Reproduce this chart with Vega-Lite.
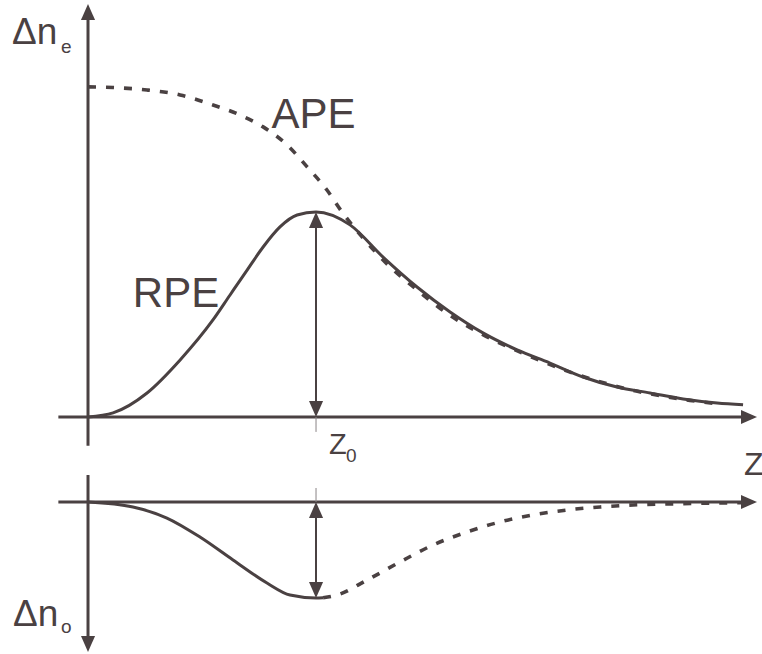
{
  "$schema": "https://vega.github.io/schema/vega-lite/v6.json",
  "padding": 0,
  "spacing": 0,
  "bounds": "flush",
  "background": "white",
  "config": {"view": {"stroke": null}, "font": "Liberation Sans"},
  "datasets": {
    "rpe": [
      {"z": 0.0, "v": 0.0}, {"z": 0.110, "v": 0.020}, {"z": 0.259, "v": 0.117},
      {"z": 0.404, "v": 0.278}, {"z": 0.548, "v": 0.473}, {"z": 0.623, "v": 0.595},
      {"z": 0.697, "v": 0.715}, {"z": 0.768, "v": 0.829}, {"z": 0.842, "v": 0.927},
      {"z": 0.917, "v": 0.985}, {"z": 1.0, "v": 1.0}, {"z": 1.149, "v": 0.937},
      {"z": 1.294, "v": 0.780}, {"z": 1.443, "v": 0.634}, {"z": 1.588, "v": 0.512},
      {"z": 1.732, "v": 0.410}, {"z": 1.882, "v": 0.327}, {"z": 2.026, "v": 0.263},
      {"z": 2.171, "v": 0.195}, {"z": 2.320, "v": 0.146}, {"z": 2.465, "v": 0.117},
      {"z": 2.610, "v": 0.088}, {"z": 2.759, "v": 0.068}, {"z": 2.873, "v": 0.059}
    ],
    "ape": [
      {"z": 0.0, "v": 1.610}, {"z": 0.110, "v": 1.607}, {"z": 0.259, "v": 1.595},
      {"z": 0.404, "v": 1.571}, {"z": 0.548, "v": 1.522}, {"z": 0.667, "v": 1.473},
      {"z": 0.768, "v": 1.415}, {"z": 0.873, "v": 1.327}, {"z": 0.961, "v": 1.220},
      {"z": 1.048, "v": 1.107}, {"z": 1.114, "v": 1.0}, {"z": 1.206, "v": 0.873},
      {"z": 1.325, "v": 0.732}, {"z": 1.443, "v": 0.620}, {"z": 1.575, "v": 0.505},
      {"z": 1.732, "v": 0.402}, {"z": 1.925, "v": 0.302}, {"z": 2.158, "v": 0.202},
      {"z": 2.390, "v": 0.130}, {"z": 2.640, "v": 0.081}, {"z": 2.772, "v": 0.062}
    ],
    "dno": [
      {"z": 0.0, "v": 0.0, "part": "solid"}, {"z": 0.197, "v": -0.052, "part": "solid"},
      {"z": 0.346, "v": -0.167, "part": "solid"}, {"z": 0.491, "v": -0.365, "part": "solid"},
      {"z": 0.636, "v": -0.604, "part": "solid"}, {"z": 0.785, "v": -0.844, "part": "solid"},
      {"z": 0.886, "v": -0.969, "part": "solid"}, {"z": 1.0, "v": -1.0, "part": "solid"},
      {"z": 1.031, "v": -0.998, "part": "solid"},
      {"z": 1.031, "v": -0.998, "part": "dashed"}, {"z": 1.092, "v": -0.969, "part": "dashed"},
      {"z": 1.224, "v": -0.8125, "part": "dashed"}, {"z": 1.368, "v": -0.625, "part": "dashed"},
      {"z": 1.513, "v": -0.448, "part": "dashed"}, {"z": 1.662, "v": -0.3125, "part": "dashed"},
      {"z": 1.807, "v": -0.208, "part": "dashed"}, {"z": 1.952, "v": -0.135, "part": "dashed"},
      {"z": 2.101, "v": -0.083, "part": "dashed"}, {"z": 2.246, "v": -0.052, "part": "dashed"},
      {"z": 2.390, "v": -0.031, "part": "dashed"}, {"z": 2.539, "v": -0.021, "part": "dashed"},
      {"z": 2.759, "v": -0.010, "part": "dashed"}, {"z": 2.890, "v": -0.008, "part": "dashed"}
    ],
    "axesTop": [
      {"z": -0.13, "z2": 2.899, "v": 0, "v2": 0},
      {"z": 0, "z2": 0, "v": -0.141, "v2": 1.976}
    ],
    "axesBottom": [
      {"z": -0.13, "z2": 2.899, "v": 0, "v2": 0},
      {"z": 0, "z2": 0, "v": 0.281, "v2": -1.458}
    ],
    "headsTop": [
      {"z": 1, "v": 1, "dir": "up"}, {"z": 1, "v": 0, "dir": "down"},
      {"z": 0, "v": 2.015, "dir": "up"}, {"z": 2.934, "v": 0, "dir": "right"}
    ],
    "headsBottom": [
      {"z": 1, "v": 0, "dir": "up"}, {"z": 1, "v": -1, "dir": "down"},
      {"z": 0, "v": -1.5625, "dir": "down"}, {"z": 2.934, "v": 0, "dir": "right"}
    ]
  },
  "vconcat": [
    {
      "width": 762,
      "height": 460,
      "encoding": {
        "x": {"field": "z", "type": "quantitative", "scale": {"domain": [-0.386, 2.956], "nice": false, "zero": false}, "axis": null},
        "y": {"field": "v", "type": "quantitative", "scale": {"domain": [-0.21, 2.034], "nice": false, "zero": false}, "axis": null}
      },
      "layer": [
        {
          "data": {"name": "axesTop"},
          "mark": {"type": "rule", "color": "#4a4142", "strokeWidth": 3},
          "encoding": {"x2": {"field": "z2"}, "y2": {"field": "v2"}}
        },
        {
          "data": {"values": [{"z": 1, "v": -0.073, "v2": 0}]},
          "mark": {"type": "rule", "color": "#8a8486", "strokeWidth": 1},
          "encoding": {"y2": {"field": "v2"}}
        },
        {
          "data": {"values": [{"z": 1, "v": 0.04, "v2": 0.96}]},
          "mark": {"type": "rule", "color": "#4a4142", "strokeWidth": 2},
          "encoding": {"y2": {"field": "v2"}}
        },
        {
          "data": {"name": "ape"},
          "mark": {"type": "line", "color": "#4a4142", "strokeWidth": 3.6, "strokeDash": [8, 10], "interpolate": "monotone"},
          "encoding": {"order": {"field": "z", "type": "quantitative"}}
        },
        {
          "data": {"name": "rpe"},
          "mark": {"type": "line", "color": "#4a4142", "strokeWidth": 3, "interpolate": "monotone"},
          "encoding": {"order": {"field": "z", "type": "quantitative"}}
        },
        {
          "data": {"name": "headsTop"},
          "mark": {"type": "point", "filled": true, "size": 1024, "color": "#4a4142", "opacity": 1, "strokeWidth": 0},
          "encoding": {
            "shape": {"field": "dir", "type": "nominal", "legend": null,
              "scale": {"domain": ["up", "down", "right"], "range": ["M0,0L0.44,1L-0.44,1Z", "M0,0L0.44,-1L-0.44,-1Z", "M0,0L-1,0.44L-1,-0.44Z"]}}
          }
        },
        {
          "data": {"values": [{"z": 0.989, "v": 1.410, "label": "APE"}, {"z": 0.386, "v": 0.537, "label": "RPE"}]},
          "mark": {"type": "text", "fontSize": 42, "color": "#4a4142", "align": "center", "baseline": "alphabetic"},
          "encoding": {"text": {"field": "label"}}
        },
        {
          "data": {"values": [{"z": -0.333, "v": 1.820, "label": "Δn"}]},
          "mark": {"type": "text", "fontSize": 37, "color": "#4a4142", "align": "left", "baseline": "alphabetic"},
          "encoding": {"text": {"field": "label"}}
        },
        {
          "data": {"values": [{"z": -0.118, "v": 1.776, "label": "e"}, {"z": 1.132, "v": -0.220, "label": "0"}]},
          "mark": {"type": "text", "fontSize": 19, "color": "#4a4142", "align": "left", "baseline": "alphabetic"},
          "encoding": {"text": {"field": "label"}}
        },
        {
          "data": {"values": [{"z": 1.057, "v": -0.180, "label": "Z"}]},
          "mark": {"type": "text", "fontSize": 29, "color": "#4a4142", "align": "left", "baseline": "alphabetic"},
          "encoding": {"text": {"field": "label"}}
        }
      ]
    },
    {
      "width": 762,
      "height": 194,
      "encoding": {
        "x": {"field": "z", "type": "quantitative", "scale": {"domain": [-0.386, 2.956], "nice": false, "zero": false}, "axis": null},
        "y": {"field": "v", "type": "quantitative", "scale": {"domain": [-1.583, 0.4375], "nice": false, "zero": false}, "axis": null}
      },
      "layer": [
        {
          "data": {"name": "axesBottom"},
          "mark": {"type": "rule", "color": "#4a4142", "strokeWidth": 3},
          "encoding": {"x2": {"field": "z2"}, "y2": {"field": "v2"}}
        },
        {
          "data": {"values": [{"z": 1, "v": 0.146, "v2": 0}]},
          "mark": {"type": "rule", "color": "#8a8486", "strokeWidth": 1},
          "encoding": {"y2": {"field": "v2"}}
        },
        {
          "data": {"values": [{"z": 1, "v": -0.08, "v2": -0.92}]},
          "mark": {"type": "rule", "color": "#4a4142", "strokeWidth": 2},
          "encoding": {"y2": {"field": "v2"}}
        },
        {
          "data": {"name": "dno"},
          "transform": [{"filter": "datum.part === 'solid'"}],
          "mark": {"type": "line", "color": "#4a4142", "strokeWidth": 3, "interpolate": "monotone"},
          "encoding": {"order": {"field": "z", "type": "quantitative"}}
        },
        {
          "data": {"name": "dno"},
          "transform": [{"filter": "datum.part === 'dashed'"}],
          "mark": {"type": "line", "color": "#4a4142", "strokeWidth": 3.6, "strokeDash": [8, 10], "interpolate": "monotone"},
          "encoding": {"order": {"field": "z", "type": "quantitative"}}
        },
        {
          "data": {"name": "headsBottom"},
          "mark": {"type": "point", "filled": true, "size": 1024, "color": "#4a4142", "opacity": 1, "strokeWidth": 0},
          "encoding": {
            "shape": {"field": "dir", "type": "nominal", "legend": null,
              "scale": {"domain": ["up", "down", "right"], "range": ["M0,0L0.44,1L-0.44,1Z", "M0,0L0.44,-1L-0.44,-1Z", "M0,0L-1,0.44L-1,-0.44Z"]}}
          }
        },
        {
          "data": {"values": [{"z": -0.329, "v": -1.292, "label": "Δn"}]},
          "mark": {"type": "text", "fontSize": 37, "color": "#4a4142", "align": "left", "baseline": "alphabetic"},
          "encoding": {"text": {"field": "label"}}
        },
        {
          "data": {"values": [{"z": -0.118, "v": -1.365, "label": "o"}]},
          "mark": {"type": "text", "fontSize": 19, "color": "#4a4142", "align": "left", "baseline": "alphabetic"},
          "encoding": {"text": {"field": "label"}}
        },
        {
          "data": {"values": [{"z": 2.877, "v": 0.281, "label": "Z"}]},
          "mark": {"type": "text", "fontSize": 32, "color": "#4a4142", "align": "left", "baseline": "alphabetic"},
          "encoding": {"text": {"field": "label"}}
        }
      ]
    }
  ]
}
